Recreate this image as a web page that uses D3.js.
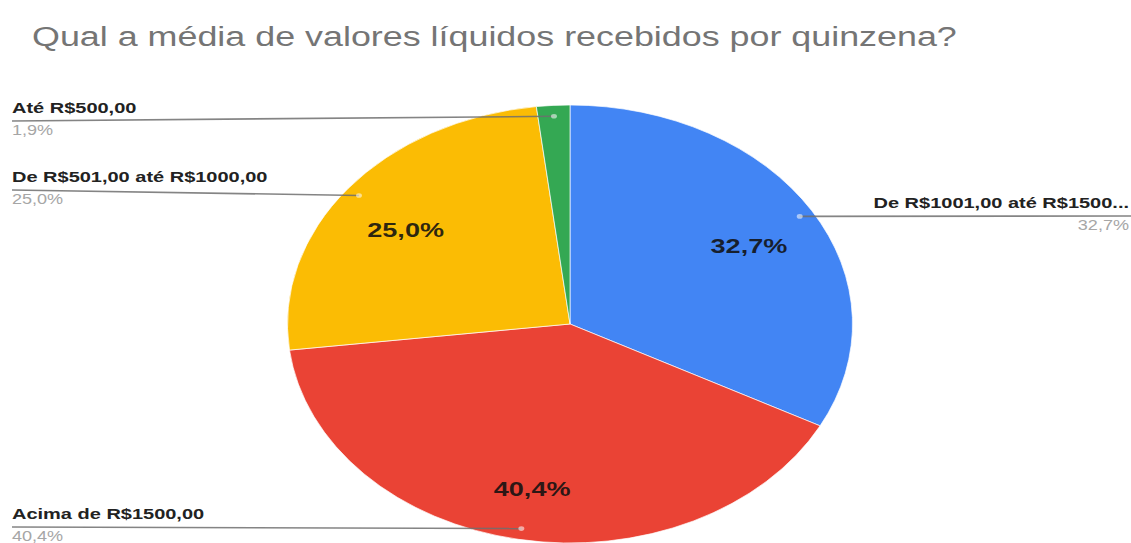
<!DOCTYPE html>
<html>
<head>
<meta charset="utf-8">
<script src="https://cdn.jsdelivr.net/npm/d3@7"></script>
<style>
  html, body { margin: 0; padding: 0; background: #ffffff; }
  svg { display: block; }
  text { font-family: "Liberation Sans", Arial, sans-serif; }
</style>
</head>
<body>
<svg id="chart"></svg>
<script>
// ---- data ----
const chartTitle = "Qual a média de valores líquidos recebidos por quinzena?";
const categories = [
  "De R$1001,00 até R$1500...",
  "Acima de R$1500,00",
  "De R$501,00 até R$1000,00",
  "Até R$500,00"
];
const values = [32.7, 40.4, 25.0, 1.9];
const sliceColors = ["#4285f4", "#ea4335", "#fbbc04", "#34a853"];

// ---- layout ----
const W = 1131, H = 543;
const SX = 1.29;               // horizontal stretch of the whole drawing
const cx = 570 / SX, cy = 324; // pie centre (unstretched units)
const R = 219;

// where each callout label sits: side, x (px), text baseline (px)
const callouts = [
  { side: "right", x: 1129, y: 208 },
  { side: "left",  x: 12,   y: 519 },
  { side: "left",  x: 12,   y: 182 },
  { side: "left",  x: 12,   y: 113 }
];

const fmtPct = v => d3.format(".1f")(v).replace(".", ",") + "%";

const svg = d3.select("#chart").attr("width", W).attr("height", H);
const root = svg.append("g").attr("transform", `scale(${SX},1)`);

// title
root.append("text")
  .attr("x", 32 / SX)
  .attr("y", 46)
  .attr("font-size", 27.8)
  .attr("fill", "#757575")
  .text(chartTitle);

// pie
const pie = d3.pie().sort(null).value(d => d)(values);
const arc = d3.arc().innerRadius(0).outerRadius(R);
const dotArc = d3.arc().innerRadius(R * 0.95).outerRadius(R * 0.95);
const labelArc = d3.arc().innerRadius(R * 0.74).outerRadius(R * 0.74);

const g = root.append("g").attr("transform", `translate(${cx},${cy})`);

g.selectAll("path.slice")
  .data(pie)
  .join("path")
  .attr("class", "slice")
  .attr("d", arc)
  .attr("fill", (d, i) => sliceColors[i])
  .attr("stroke", "#ffffff")
  .attr("stroke-width", 0.6);

// percentage labels inside the slices (skip very thin slices)
g.selectAll("text.inner")
  .data(pie.filter(d => d.data >= 5))
  .join("text")
  .attr("class", "inner")
  .attr("x", d => labelArc.centroid(d)[0])
  .attr("y", d => labelArc.centroid(d)[1] + 13)
  .attr("text-anchor", "middle")
  .attr("font-size", 21)
  .attr("font-weight", "bold")
  .attr("fill", "#111111")
  .attr("fill-opacity", 0.88)
  .text(d => fmtPct(d.data));

// callout lines, anchor dots and legend-style labels
const cg = root.append("g");
pie.forEach((d, i) => {
  const c = callouts[i];
  const p = dotArc.centroid(d);
  const px = cx + p[0], py = cy + p[1];
  const lineY = c.y + 8;
  const x0 = c.side === "left" ? c.x / SX : px;
  const x1 = c.side === "left" ? px : W / SX;
  const y0 = c.side === "left" ? lineY : py;
  const y1 = c.side === "left" ? py : lineY;

  cg.append("line")
    .attr("x1", x0).attr("y1", y0)
    .attr("x2", x1).attr("y2", y1)
    .attr("stroke", "#6f6f6f")
    .attr("stroke-opacity", 0.85)
    .attr("stroke-width", 1.6);

  cg.append("circle")
    .attr("cx", px).attr("cy", py)
    .attr("r", 2.3)
    .attr("fill", "#ffffff")
    .attr("fill-opacity", 0.55);

  const anchor = c.side === "left" ? "start" : "end";
  cg.append("text")
    .attr("x", c.x / SX)
    .attr("y", c.y)
    .attr("text-anchor", anchor)
    .attr("font-size", 15.5)
    .attr("font-weight", "bold")
    .attr("fill", "#222222")
    .text(categories[i]);

  cg.append("text")
    .attr("x", c.x / SX)
    .attr("y", c.y + 22)
    .attr("text-anchor", anchor)
    .attr("font-size", 14)
    .attr("fill", "#a6a6a6")
    .text(fmtPct(values[i]));
});
</script>
</body>
</html>
